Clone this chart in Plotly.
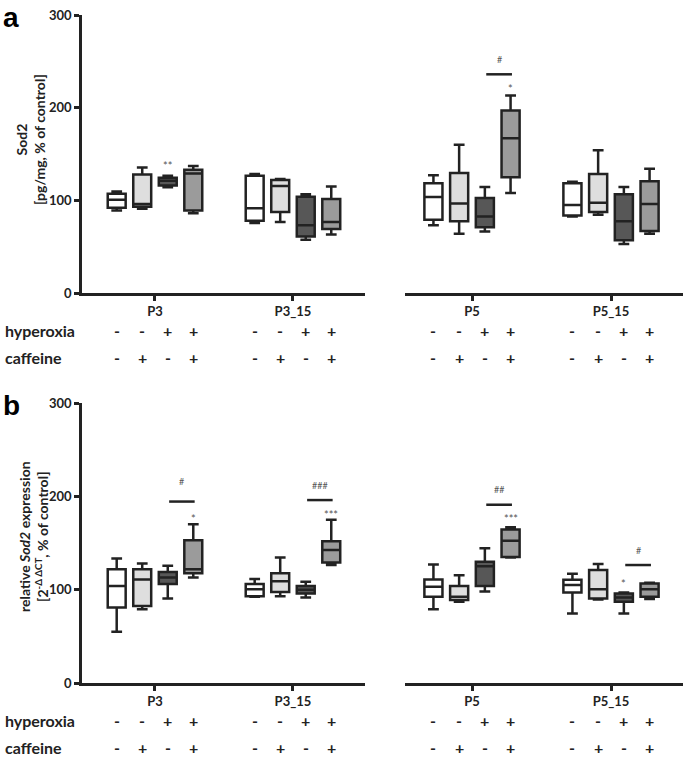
import plotly.graph_objects as go

# ---------------- data ----------------
groups_left = ["P3", "P3_15"]
groups_right = ["P5", "P5_15"]
treatments = ["control", "caffeine", "hyperoxia", "hyperoxia + caffeine"]
hyperoxia_signs = ["-", "-", "+", "+"]
caffeine_signs = ["-", "+", "-", "+"]
fill_colors = ["#ffffff", "#dedede", "#575757", "#9b9b9b"]
y_ticks = [0, 100, 200, 300]

# per treatment, values for groups P3, P3_15, P5, P5_15
a_low = [[89, 75.5, 73, 82.5], [91, 76.5, 64, 84.5], [114, 57.5, 66.5, 53], [86, 63, 108, 64]]
a_q1 = [[92, 78, 79, 83.5], [93, 87.5, 77.5, 87.5], [116, 61, 71, 57], [89, 69, 125, 67]]
a_med = [[100.5, 91.5, 103.5, 95], [96, 115.5, 96.5, 97.5], [121, 73, 82.5, 77.5], [129, 76.5, 167, 96]]
a_q3 = [[107, 126.5, 118.5, 118.5], [128, 122, 129.5, 128.5], [124.5, 104, 102.5, 106.5], [133, 101.5, 197, 120.5]]
a_high = [[109.5, 128.5, 127, 120], [135.5, 123, 160, 154], [126.5, 106.5, 114.5, 114.5], [137, 115, 213, 134]]

b_low = [[55, 92.5, 79, 74.5], [79, 93, 87, 89.5], [90.5, 91.5, 98, 74.5], [113, 126.5, 134.5, 90]]
b_q1 = [[81, 93, 92.5, 97], [82.5, 97.5, 89, 90.5], [106, 96, 104, 87], [117.5, 129, 135, 92.5]]
b_med = [[104, 100.5, 103, 105], [111, 109, 92.5, 100.5], [113, 100, 125, 91.5], [122, 142.5, 152.5, 100.5]]
b_q3 = [[122, 106, 111, 110.5], [122, 117.5, 104, 121], [119, 104, 130, 96], [153, 152, 164.5, 106.5]]
b_high = [[133.5, 111.5, 127, 117], [128, 134.5, 115.5, 127.5], [125.5, 108.5, 144.5, 97], [170, 175, 167, 107.5]]

# significance marks: (group, treatment index, y, text)
a_stars = [("P3", 2, 141, "**"), ("P5", 3, 223.5, "*")]
b_stars = [("P3", 3, 180, "*"), ("P3_15", 3, 184, "***"), ("P5", 3, 179, "***"), ("P5_15", 2, 109.6, "*")]
# brackets: (group, from treatment, to treatment, line y, text y, text)
a_brackets = [("P5", 2, 3, 236, 252, "#")]
b_brackets = [("P3", 2, 3, 194.4, 215.5, "#"), ("P3_15", 2, 3, 196, 212, "###"),
              ("P5", 2, 3, 191, 207, "##"), ("P5_15", 2, 3, 126.4, 142.5, "#")]

a_title = "Sod2<br>[pg/mg, % of control]"
b_title = "relative <i>Sod2</i> expression<br>[2<sup>-\u0394 \u0394CT</sup>, % of control]"

# ---------------- layout constants ----------------
W, H = 685, 761
FONT = "Lato, 'Open Sans', sans-serif"
INK = "#222222"
SLOT = 0.185          # spacing between boxes inside a group (axis units)
BOX_W = 0.13          # box width (axis units)
offsets = [(-1.5 + i) * SLOT for i in range(4)]

x_dom_left = [82 / W, 365 / W]
x_dom_right = [405 / W, 683 / W]
x_rng_left = [-0.529, 1.522]
x_rng_right = [-0.482, 1.518]
y_dom_a = [1 - 293 / H, 1 - 15 / H]
y_dom_b = [1 - 683 / H, 1 - 403 / H]

fig = go.Figure()

panels = [
    dict(stats=(a_low, a_q1, a_med, a_q3, a_high), axes=[("x", "y"), ("x2", "y2")],
         stars=a_stars, brackets=a_brackets, ydom=y_dom_a, title=a_title),
    dict(stats=(b_low, b_q1, b_med, b_q3, b_high), axes=[("x3", "y3"), ("x4", "y4")],
         stars=b_stars, brackets=b_brackets, ydom=y_dom_b, title=b_title),
]
side_groups = [groups_left, groups_right]

annotations = []
shapes = []

for p in panels:
    low, q1, med, q3, high = p["stats"]
    for side in range(2):
        xa, ya = p["axes"][side]
        sl = slice(side * 2, side * 2 + 2)
        for t in range(4):
            fig.add_trace(go.Box(
                x=[gi + offsets[t] for gi in range(len(side_groups[side]))],
                lowerfence=low[t][sl], q1=q1[t][sl], median=med[t][sl],
                q3=q3[t][sl], upperfence=high[t][sl],
                width=BOX_W,
                name=treatments[t], fillcolor=fill_colors[t],
                line=dict(color=INK, width=2.5), whiskerwidth=0.6,
                boxpoints=False, showlegend=False, hoverinfo="skip",
                xaxis=xa, yaxis=ya,
            ))

    def axes_for(group):
        side = 0 if group in groups_left else 1
        return p["axes"][side], side_groups[side].index(group)

    for g, t, yv, txt in p["stars"]:
        (xa, ya), gi = axes_for(g)
        annotations.append(dict(x=gi + offsets[t], y=yv, xref=xa, yref=ya, text=txt,
                                showarrow=False, yshift=-3, xanchor="center", yanchor="middle",
                                font=dict(family=FONT, size=11, color="#555555")))
    for g, t0, t1, ly, ty, txt in p["brackets"]:
        (xa, ya), gi = axes_for(g)
        x0 = gi + offsets[t0] + 0.01
        x1 = gi + offsets[t1] + 0.01
        shapes.append(dict(type="line", xref=xa, yref=ya, x0=x0, x1=x1, y0=ly, y1=ly,
                           line=dict(color=INK, width=2.5)))
        annotations.append(dict(x=(x0 + x1) / 2, y=ty, xref=xa, yref=ya, text=txt,
                                showarrow=False, xanchor="center", yanchor="middle",
                                font=dict(family=FONT, size=9, color="#555555")))

    # +/- rows
    row_y = [p["ydom"][0] - 37 / H, p["ydom"][0] - 64 / H]
    for side in range(2):
        xa, _ = p["axes"][side]
        for gi in range(2):
            for t in range(4):
                for ry, signs in zip(row_y, [hyperoxia_signs, caffeine_signs]):
                    annotations.append(dict(x=gi + offsets[t], y=ry, xref=xa, yref="paper",
                                            text=signs[t], showarrow=False,
                                            xanchor="center", yanchor="middle",
                                            font=dict(family=FONT, size=16, color=INK, weight="bold")))
    for ry, lab in zip(row_y, ["hyperoxia", "caffeine"]):
        annotations.append(dict(x=3 / W, y=ry, xref="paper", yref="paper", text=lab,
                                xanchor="left", yanchor="middle", showarrow=False,
                                font=dict(family=FONT, size=16, color=INK, weight="bold")))

# y titles
annotations.append(dict(x=31 / W, y=1 - 140 / H, xref="paper", yref="paper", text=a_title,
                        textangle=-90, showarrow=False, xanchor="center", yanchor="middle",
                        font=dict(family=FONT, size=14, color=INK, weight="bold")))
annotations.append(dict(x=33 / W, y=1 - 537 / H, xref="paper", yref="paper", text=b_title,
                        textangle=-90, showarrow=False, xanchor="center", yanchor="middle",
                        font=dict(family=FONT, size=14, color=INK, weight="bold")))
# panel letters
annotations.append(dict(x=1 / W, y=1 - 0 / H, xref="paper", yref="paper", text="a",
                        xanchor="left", yanchor="top", showarrow=False,
                        font=dict(family="Liberation Sans, Arial", size=28, color="#000000",
                                  weight="bold")))
annotations.append(dict(x=1 / W, y=1 - 388 / H, xref="paper", yref="paper", text="b",
                        xanchor="left", yanchor="top", showarrow=False,
                        font=dict(family="Liberation Sans, Arial", size=28, color="#000000",
                                  weight="bold")))

tickfont = dict(family=FONT, size=13, color=INK, weight="bold")
xcommon = dict(showline=True, linecolor=INK, linewidth=2.5, ticks="outside", ticklen=5,
               tickwidth=2.5, tickcolor=INK, showgrid=False, zeroline=False,
               tickfont=tickfont, type="linear", tickvals=[0, 1], automargin=False,
               fixedrange=True)
ycommon_vis = dict(range=[0, 300], tickvals=y_ticks, showline=True, linecolor=INK,
                   linewidth=2.5, ticks="outside", ticklen=5, tickwidth=2.5, tickcolor=INK,
                   showgrid=False, zeroline=False, tickfont=tickfont, automargin=False)
ycommon_hid = dict(range=[0, 300], visible=False, showgrid=False, zeroline=False,
                   automargin=False)

fig.update_layout(
    template="none",
    width=W, height=H,
    margin=dict(l=0, r=0, t=0, b=0, pad=0),
    paper_bgcolor="white", plot_bgcolor="rgba(0,0,0,0)",
    boxmode="overlay",
    showlegend=False,
    font=dict(family=FONT, color=INK),
    xaxis=dict(domain=x_dom_left, range=x_rng_left, anchor="y",
               ticktext=groups_left, **xcommon),
    yaxis=dict(domain=y_dom_a, anchor="x", **ycommon_vis),
    xaxis2=dict(domain=x_dom_right, range=x_rng_right, anchor="y2",
                ticktext=groups_right, **xcommon),
    yaxis2=dict(domain=y_dom_a, anchor="x2", **ycommon_hid),
    xaxis3=dict(domain=x_dom_left, range=x_rng_left, anchor="y3",
                ticktext=groups_left, **xcommon),
    yaxis3=dict(domain=y_dom_b, anchor="x3", **ycommon_vis),
    xaxis4=dict(domain=x_dom_right, range=x_rng_right, anchor="y4",
                ticktext=groups_right, **xcommon),
    yaxis4=dict(domain=y_dom_b, anchor="x4", **ycommon_hid),
    annotations=annotations,
    shapes=shapes,
)

fig.write_html(
    "out.html",
    config={"displayModeBar": False},
    post_script="document.body.style.margin='0';document.body.style.padding='0';"
                "document.body.style.overflow='hidden';",
)
